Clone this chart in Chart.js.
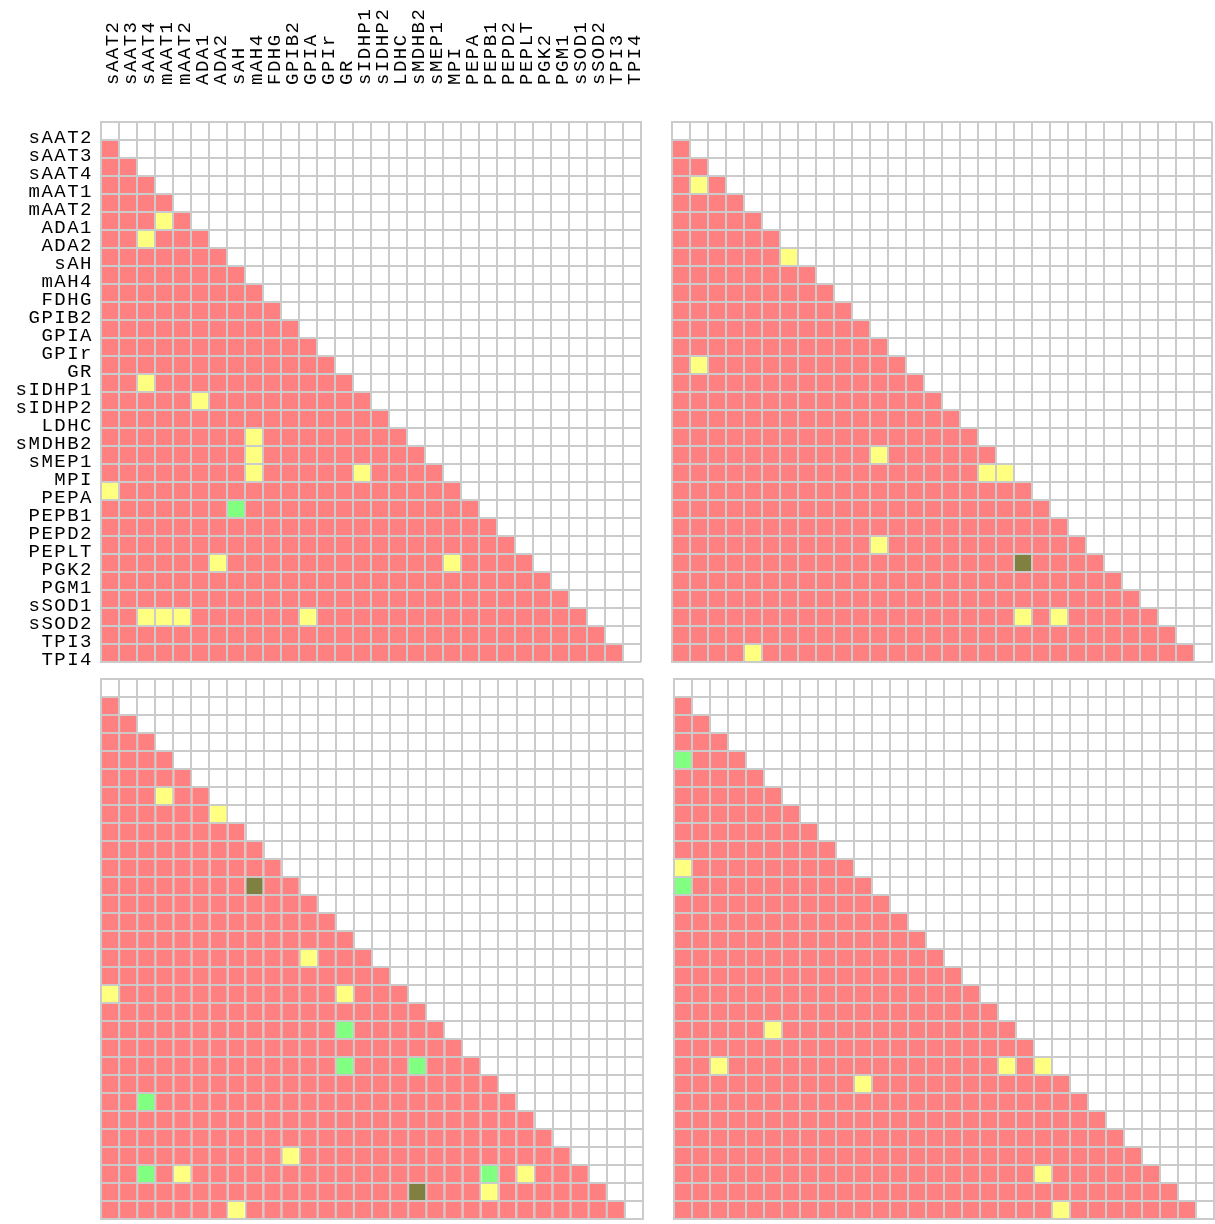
<!DOCTYPE html>
<html>
<head>
<meta charset="utf-8">
<title>Pairwise locus tests</title>
<script src="https://cdn.jsdelivr.net/npm/chart.js@4.4.1/dist/chart.umd.min.js"></script>
<style>
  html, body { margin: 0; padding: 0; background: #ffffff; }
  body { width: 1215px; height: 1224px; position: relative; overflow: hidden; }
  canvas { position: absolute; }
</style>
</head>
<body>
<canvas id="panelA"></canvas>
<canvas id="panelB"></canvas>
<canvas id="panelC"></canvas>
<canvas id="panelD"></canvas>
<script>
// Loci, in the order used for both rows and columns of every matrix
const loci = ['sAAT2', 'sAAT3', 'sAAT4', 'mAAT1', 'mAAT2', 'ADA1', 'ADA2', 'sAH', 'mAH4', 'FDHG',
  'GPIB2', 'GPIA', 'GPIr', 'GR', 'sIDHP1', 'sIDHP2', 'LDHC', 'sMDHB2', 'sMEP1', 'MPI',
  'PEPA', 'PEPB1', 'PEPD2', 'PEPLT', 'PGK2', 'PGM1', 'sSOD1', 'sSOD2', 'TPI3', 'TPI4'];

// Flagged pairs per panel as [row, column] indices into loci.
// Every other pair below the diagonal takes the base colour.
const panelAYellow = [[5, 3], [6, 2], [14, 2], [15, 5], [17, 8], [18, 8], [19, 8], [19, 14],
  [20, 0], [24, 6], [24, 19], [27, 2], [27, 3], [27, 4], [27, 11]];
const panelAGreen = [[21, 7]];
const panelADark = [];

const panelBYellow = [[3, 1], [7, 6], [13, 1], [18, 11], [19, 17], [19, 18], [23, 11],
  [27, 19], [27, 21], [29, 4]];
const panelBGreen = [];
const panelBDark = [[24, 19]];

const panelCYellow = [[6, 3], [7, 6], [15, 11], [17, 0], [17, 13], [26, 10], [27, 4],
  [27, 23], [28, 21], [29, 7]];
const panelCGreen = [[19, 13], [21, 13], [21, 17], [23, 2], [27, 2], [27, 21]];
const panelCDark = [[11, 8], [28, 17]];

const panelDYellow = [[10, 0], [19, 5], [21, 2], [21, 18], [21, 20], [22, 10], [27, 20], [29, 21]];
const panelDGreen = [[4, 0], [11, 0]];
const panelDDark = [];

const cellColors = { base: '#ff8080', yellow: '#ffff80', green: '#80ff80', dark: '#808040' };
const gridColor = '#cbcbcb';
const labelFont = { family: "'Liberation Mono', 'Courier New', monospace", size: 19 };

// square marker filling one cell, leaving the 2px grid line visible
function cellRadius(ctx) {
  const sx = ctx.chart.scales.x;
  const w = Math.abs(sx.getPixelForValue(1) - sx.getPixelForValue(0));
  return (w - 2) / Math.SQRT2;
}

function cellDataset(points, color) {
  return {
    data: points,
    showLine: false,
    pointStyle: 'rect',
    pointRadius: cellRadius,
    pointBackgroundColor: color,
    pointBorderWidth: 0,
    pointHoverRadius: cellRadius
  };
}

function buildDatasets(yellow, green, dark) {
  const key = (r, c) => r + ':' + c;
  const flagged = new Set([...yellow, ...green, ...dark].map(([r, c]) => key(r, c)));
  const toPoint = ([r, c]) => ({ x: c + 0.5, y: r + 0.5 });
  const base = [];
  for (let r = 1; r < loci.length; r++) {
    for (let c = 0; c < r; c++) {
      if (!flagged.has(key(r, c))) base.push(toPoint([r, c]));
    }
  }
  return [
    cellDataset(base, cellColors.base),
    cellDataset(yellow.map(toPoint), cellColors.yellow),
    cellDataset(green.map(toPoint), cellColors.green),
    cellDataset(dark.map(toPoint), cellColors.dark)
  ];
}

function gridScale(extra) {
  return Object.assign({
    type: 'linear',
    min: 0,
    max: loci.length,
    grid: { color: gridColor, lineWidth: 2, drawTicks: false },
    border: { color: gridColor, width: 2 },
    ticks: { display: false, stepSize: 1, maxTicksLimit: 100 }
  }, extra);
}

const labelSpacing = {
  id: 'labelSpacing',
  beforeDraw(chart) { chart.ctx.letterSpacing = '1.5px'; }
};

// Places a canvas so that its plot area lands on the given page rectangle.
function makePanel(id, area, pad, datasets, scales, plugins) {
  const canvas = document.getElementById(id);
  const left = area.left - pad.left;
  const top = area.top - pad.top;
  canvas.width = area.right + pad.right - left;
  canvas.height = area.bottom + pad.bottom - top;
  canvas.style.left = left + 'px';
  canvas.style.top = top + 'px';
  return new Chart(canvas, {
    type: 'scatter',
    data: { datasets },
    options: {
      responsive: false,
      animation: false,
      events: [],
      layout: { padding: { left: pad.fitLeft ?? pad.left, top: pad.fitTop ?? pad.top, right: pad.right, bottom: pad.bottom }, autoPadding: false },
      plugins: { legend: { display: false }, tooltip: { enabled: false } },
      scales
    },
    plugins: plugins || []
  });
}

// Top-left panel carries the locus labels on both axes
makePanel('panelA',
  { left: 101, top: 122, right: 641, bottom: 662 },
  { left: 101, top: 122, right: 19, bottom: 3, fitLeft: 0, fitTop: 0 },
  buildDatasets(panelAYellow, panelAGreen, panelADark),
  {
    x: gridScale({
      position: 'top',
      ticks: {
        display: true, stepSize: 1, maxTicksLimit: 100, autoSkip: false,
        minRotation: 90, maxRotation: 90, padding: 37, labelOffset: 35,
        color: '#000000', font: labelFont,
        callback: v => loci[v] ?? ''
      },
      afterFit(scale) { scale.height = 122; scale.paddingLeft = 0; scale.paddingRight = 0; }
    }),
    y: gridScale({
      position: 'left',
      reverse: true,
      ticks: {
        display: true, stepSize: 1, maxTicksLimit: 100, autoSkip: false,
        padding: 8, labelOffset: 16,
        color: '#000000', font: labelFont,
        callback: v => loci[v] ?? ''
      },
      afterFit(scale) { scale.width = 101; scale.paddingTop = 0; scale.paddingBottom = 0; }
    })
  },
  [labelSpacing]);

const plainPad = { left: 4, top: 4, right: 4, bottom: 4 };
const plainScales = () => ({ x: gridScale({}), y: gridScale({ reverse: true }) });

makePanel('panelB', { left: 672, top: 122, right: 1212, bottom: 662 }, plainPad,
  buildDatasets(panelBYellow, panelBGreen, panelBDark), plainScales());
makePanel('panelC', { left: 101, top: 679, right: 643, bottom: 1219 }, plainPad,
  buildDatasets(panelCYellow, panelCGreen, panelCDark), plainScales());
makePanel('panelD', { left: 674, top: 679, right: 1214, bottom: 1219 }, plainPad,
  buildDatasets(panelDYellow, panelDGreen, panelDDark), plainScales());
</script>
</body>
</html>
